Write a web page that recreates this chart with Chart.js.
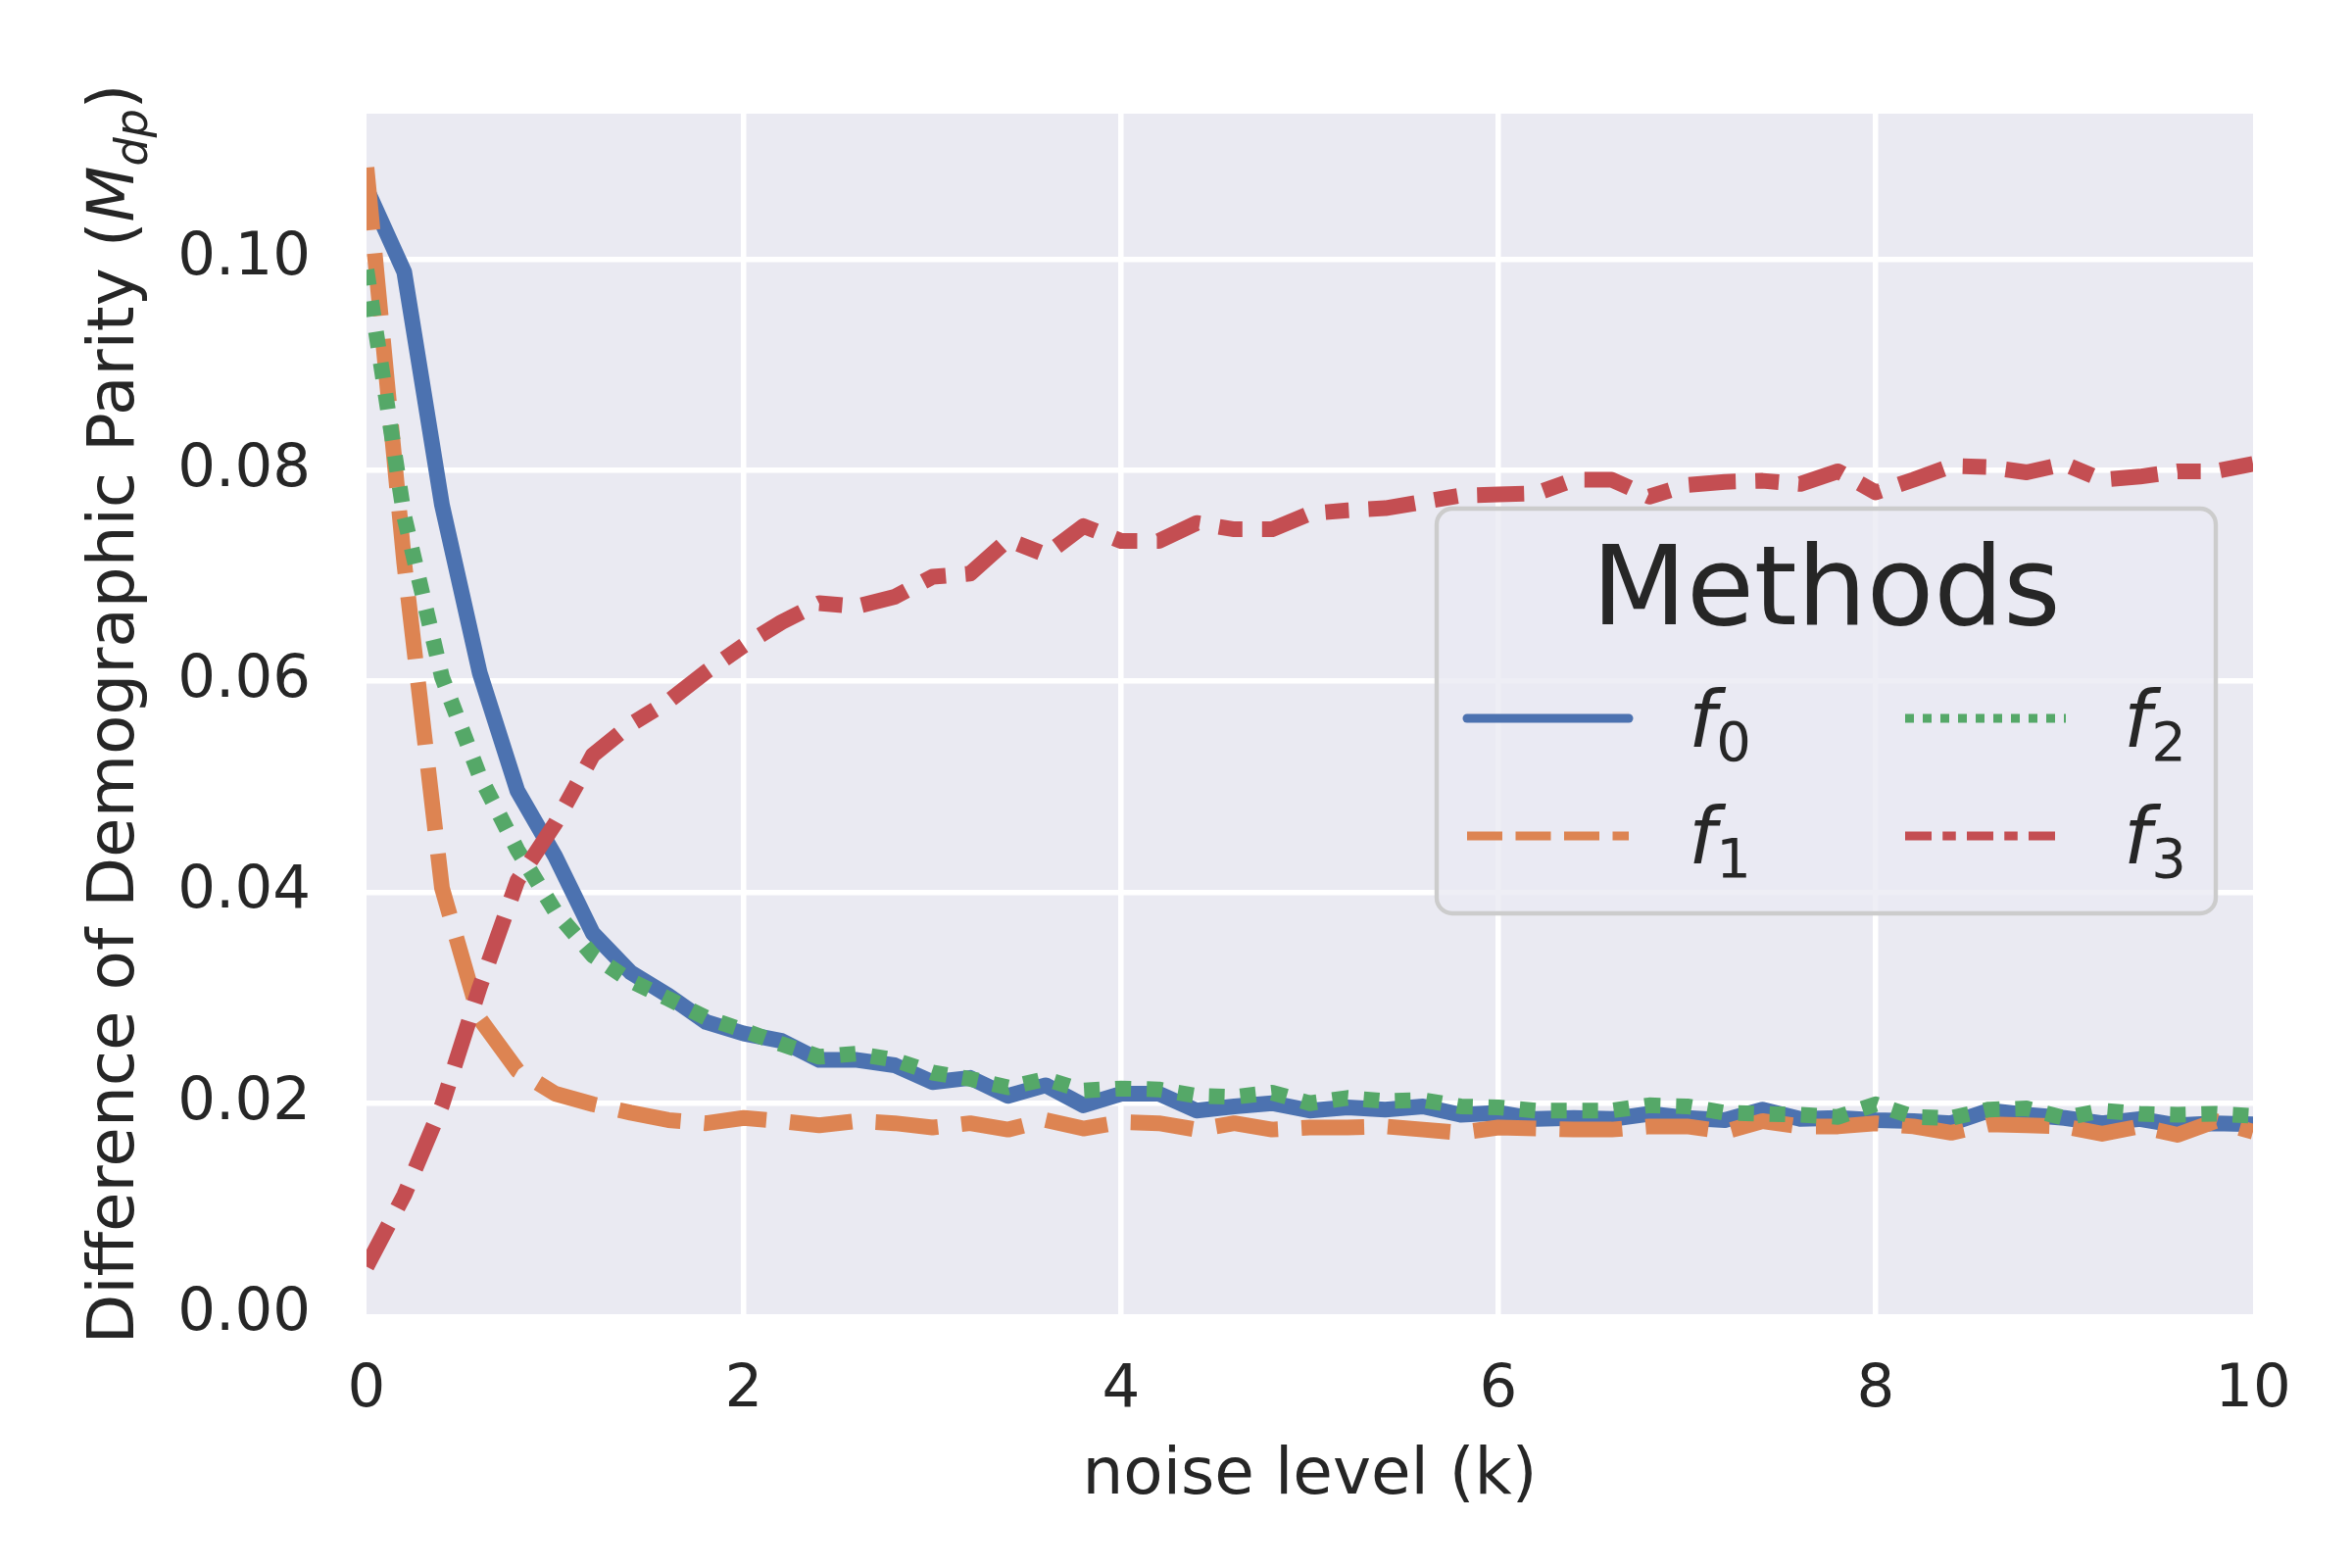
<!DOCTYPE html>
<html lang="en">
<head>
  <meta charset="UTF-8">
  <title>Difference of Demographic Parity vs noise level</title>
  <script src="https://cdn.jsdelivr.net/npm/chart.js"></script>
  <style>
    html, body { margin: 0; padding: 0; background: #ffffff; }
    #chart { display: block; }
  </style>
</head>
<body>
  <canvas id="chart" width="2400" height="1600"></canvas>

  <script>
    // noise level k, one sample every 0.2
    const noiseLevels = [
      0, 0.2, 0.4, 0.6, 0.8, 1, 1.2, 1.4, 1.6, 1.8,
      2, 2.2, 2.4, 2.6, 2.8, 3, 3.2, 3.4, 3.6, 3.8,
      4, 4.2, 4.4, 4.6, 4.8, 5, 5.2, 5.4, 5.6, 5.8,
      6, 6.2, 6.4, 6.6, 6.8, 7, 7.2, 7.4, 7.6, 7.8,
      8, 8.2, 8.4, 8.6, 8.8, 9, 9.2, 9.4, 9.6, 9.8, 10
    ];

    const f0 = [
      0.1067, 0.0988, 0.0767, 0.0608, 0.0496, 0.0434, 0.0361, 0.0324, 0.0302, 0.0277,
      0.0266, 0.0259, 0.0241, 0.0241, 0.0236, 0.0220, 0.0224, 0.0207, 0.0217, 0.0198,
      0.0209, 0.0209, 0.0193, 0.0197, 0.0200, 0.0193, 0.0196, 0.0194, 0.0197, 0.0189,
      0.0191, 0.0185, 0.0186, 0.0185, 0.0190, 0.0186, 0.0184, 0.0194, 0.0185, 0.0186,
      0.0184, 0.0183, 0.0181, 0.0193, 0.0189, 0.0186, 0.0181, 0.0185, 0.0179, 0.0181, 0.0180
    ];

    const f1 = [
      0.1087, 0.0712, 0.0404, 0.0280, 0.0231, 0.0209, 0.0199, 0.0191, 0.0184, 0.0181,
      0.0186, 0.0183, 0.0179, 0.0183, 0.0181, 0.0177, 0.0181, 0.0175, 0.0184, 0.0176,
      0.0182, 0.0181, 0.0175, 0.0181, 0.0175, 0.0177, 0.0177, 0.0178, 0.0175, 0.0172,
      0.0177, 0.0176, 0.0175, 0.0175, 0.0178, 0.0178, 0.0173, 0.0183, 0.0178, 0.0178,
      0.0181, 0.0178, 0.0172, 0.0180, 0.0179, 0.0178, 0.0171, 0.0178, 0.0170, 0.0183, 0.0173
    ];

    const f2 = [
      0.0990, 0.0756, 0.0604, 0.0510, 0.0440, 0.0382, 0.0340, 0.0316, 0.0299, 0.0281,
      0.0269, 0.0256, 0.0244, 0.0247, 0.0241, 0.0229, 0.0223, 0.0215, 0.0223, 0.0212,
      0.0214, 0.0213, 0.0207, 0.0206, 0.0210, 0.0200, 0.0205, 0.0202, 0.0203, 0.0197,
      0.0196, 0.0193, 0.0193, 0.0193, 0.0198, 0.0197, 0.0191, 0.0190, 0.0189, 0.0187,
      0.0199, 0.0187, 0.0186, 0.0194, 0.0195, 0.0186, 0.0193, 0.0190, 0.0189, 0.0190, 0.0188
    ];

    const f3 = [
      0.0045, 0.0113, 0.0198, 0.0310, 0.0411, 0.0465, 0.0530, 0.0559, 0.0581, 0.0609,
      0.0634, 0.0656, 0.0674, 0.0671, 0.0680, 0.0699, 0.0702, 0.0734, 0.0720, 0.0747,
      0.0733, 0.0733, 0.0750, 0.0744, 0.0744, 0.0759, 0.0762, 0.0764, 0.0770, 0.0776,
      0.0777, 0.0778, 0.0791, 0.0791, 0.0775, 0.0786, 0.0789, 0.0790, 0.0787, 0.0799,
      0.0779, 0.0791, 0.0804, 0.0803, 0.0798, 0.0806, 0.0791, 0.0794, 0.0799, 0.0799, 0.0806
    ];

    const seriesNames = ['0', '1', '2', '3'];   // subscripts of f
    const seriesColors = ['#4C72B0', '#DD8452', '#55A868', '#C44E52'];
    // seaborn default dash specs, in units of line width
    const seriesDashes = [[], [4, 1.5], [1, 1], [3, 1.25, 1.5, 1.25]];

    const xTicks = [0, 2, 4, 6, 8, 10];
    const yTicks = [0, 0.02, 0.04, 0.06, 0.08, 0.10];

    const FONT = '"DejaVu Sans", "Liberation Sans", sans-serif';
    const TEXT = '#262626';
    const LW = 16;

    function points(values) {
      return noiseLevels.map((k, i) => ({ x: k, y: values[i] }));
    }

    const allSeries = [f0, f1, f2, f3];
    const datasets = allSeries.map((vals, i) => ({
      label: 'f' + seriesNames[i],
      data: points(vals),
      borderColor: seriesColors[i],
      backgroundColor: seriesColors[i],
      borderWidth: LW,
      borderDash: seriesDashes[i].map(d => d * LW),
      borderJoinStyle: 'round',
      pointRadius: 0,
      tension: 0,
      fill: false,
      clip: 0,
      order: 3 - i
    }));

    // background of the axes, y label with math text, legend box
    const decor = {
      id: 'decor',
      beforeDraw(chart) {
        const { ctx, chartArea: a } = chart;
        ctx.save();
        ctx.fillStyle = '#ffffff';
        ctx.fillRect(0, 0, chart.width, chart.height);
        ctx.fillStyle = '#EAEAF2';
        ctx.fillRect(a.left, a.top, a.right - a.left, a.bottom - a.top);
        ctx.restore();
      },
      afterDraw(chart) {
        const { ctx, chartArea: a } = chart;
        ctx.save();

        // y axis title: Difference of Demographic Parity (M_dp)
        const parts = [
          { t: 'Difference of Demographic Parity (', f: '66px ' + FONT, dy: 0 },
          { t: 'M', f: 'italic 66px ' + FONT, dy: 0 },
          { t: 'dp', f: 'italic 46px ' + FONT, dy: 14 },
          { t: ')', f: '66px ' + FONT, dy: 0 }
        ];
        let total = 0;
        parts.forEach(p => { ctx.font = p.f; p.w = ctx.measureText(p.t).width; total += p.w; });
        ctx.translate(136, (a.top + a.bottom) / 2);
        ctx.rotate(-Math.PI / 2);
        ctx.fillStyle = TEXT;
        ctx.textBaseline = 'alphabetic';
        ctx.textAlign = 'left';
        let x = -total / 2;
        parts.forEach(p => { ctx.font = p.f; ctx.fillText(p.t, x, p.dy); x += p.w; });
        ctx.setTransform(1, 0, 0, 1, 0, 0);

        // legend
        const bx = 1466, by = 519, bw = 795, bh = 413;
        ctx.beginPath();
        ctx.roundRect(bx, by, bw, bh, 16);
        ctx.fillStyle = 'rgba(234,234,242,0.8)';
        ctx.fill();
        ctx.lineWidth = 4.4;
        ctx.strokeStyle = '#cccccc';
        ctx.stroke();

        ctx.fillStyle = TEXT;
        ctx.font = '112px ' + FONT;
        ctx.textAlign = 'center';
        ctx.fillText('Methods', bx + bw / 2, 637);

        const cols = [{ x0: 1497, x1: 1662, tx: 1723 }, { x0: 1944, x1: 2108, tx: 2167 }];
        const rows = [{ y: 733, base: 762 }, { y: 853, base: 881 }];
        const slots = [[0, 0], [0, 1], [1, 0], [1, 1]]; // [col,row] for f0..f3
        const hw = 9;
        slots.forEach(([c, r], i) => {
          const col = cols[c], row = rows[r];
          ctx.beginPath();
          ctx.setLineDash(seriesDashes[i].map(d => d * hw));
          ctx.lineCap = i === 0 ? 'round' : 'butt';
          ctx.lineWidth = hw;
          ctx.strokeStyle = seriesColors[i];
          ctx.moveTo(col.x0, row.y);
          ctx.lineTo(col.x1, row.y);
          ctx.stroke();
          ctx.setLineDash([]);

          ctx.fillStyle = TEXT;
          ctx.textAlign = 'left';
          ctx.font = 'italic 80px ' + FONT;
          ctx.fillText('f', col.tx, row.base);
          const fw = ctx.measureText('f').width;
          ctx.font = '56px ' + FONT;
          ctx.fillText(seriesNames[i], col.tx + fw, row.base + 14);
        });

        ctx.restore();
      }
    };

    new Chart(document.getElementById('chart'), {
      type: 'line',
      data: { datasets },
      options: {
        responsive: false,
        devicePixelRatio: 1,
        animation: false,
        layout: { padding: { left: 0, top: 116, right: 101, bottom: 0 } },
        plugins: {
          legend: { display: false },
          tooltip: { enabled: false }
        },
        scales: {
          x: {
            type: 'linear',
            min: 0,
            max: 10,
            afterFit: s => { s.height = 259; },
            afterBuildTicks: s => { s.ticks = xTicks.map(v => ({ value: v })); },
            grid: {
              color: c => (c.tick && (c.tick.value === 0 || c.tick.value === 10)) ? 'rgba(0,0,0,0)' : '#ffffff',
              lineWidth: 5.5,
              drawTicks: false
            },
            border: { display: false },
            ticks: {
              color: TEXT,
              padding: 42,
              font: { family: FONT, size: 61 },
              callback: v => String(v)
            },
            title: {
              display: true,
              text: 'noise level (k)',
              color: TEXT,
              font: { family: FONT, size: 66 },
              padding: { top: 0, bottom: 54 }
            }
          },
          y: {
            type: 'linear',
            min: 0,
            max: 0.1138,
            afterFit: s => { s.width = 374; },
            afterBuildTicks: s => { s.ticks = yTicks.map(v => ({ value: v })); },
            grid: {
              color: c => (c.tick && c.tick.value === 0) ? 'rgba(0,0,0,0)' : '#ffffff',
              lineWidth: 5.5,
              drawTicks: false
            },
            border: { display: false },
            ticks: {
              color: TEXT,
              padding: 57,
              font: { family: FONT, size: 61 },
              callback: v => Number(v).toFixed(2)
            }
          }
        }
      },
      plugins: [decor]
    });
  </script>
</body>
</html>
